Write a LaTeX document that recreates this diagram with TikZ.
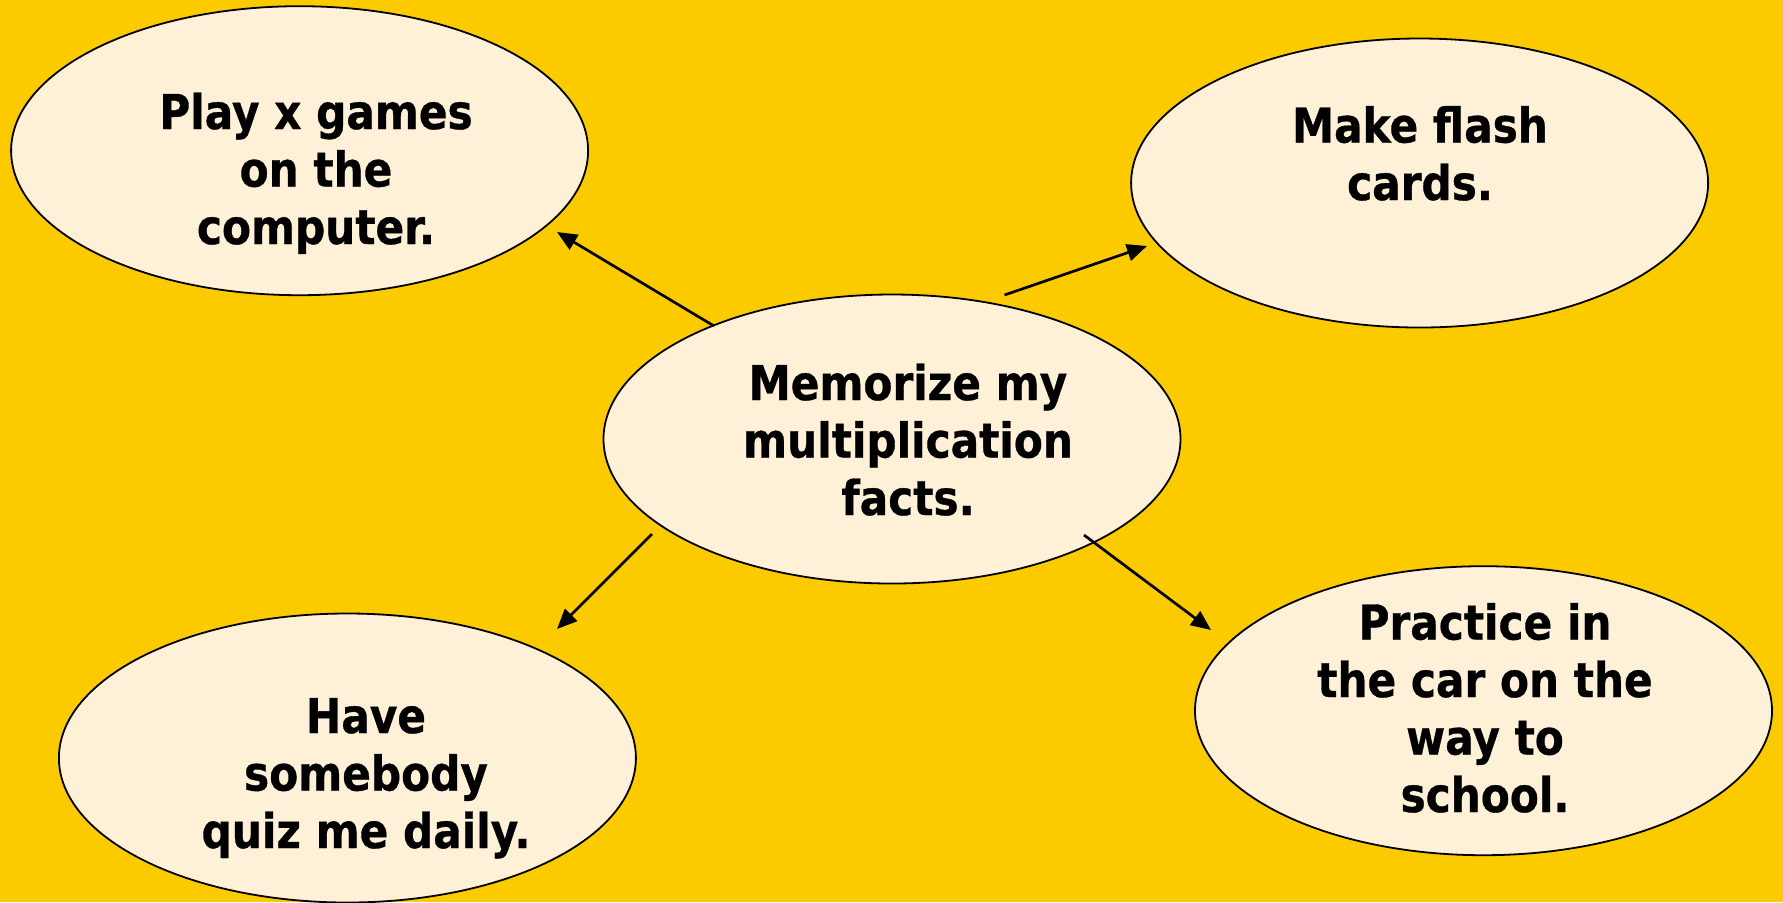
\documentclass[tikz,border=0pt]{standalone}
\usepackage{fontspec}
\setmainfont{DejaVu Sans}[FakeStretch=0.88,BoldFeatures={FakeBold=0.7}]
\usetikzlibrary{shapes.geometric,arrows.meta}
\definecolor{bgyellow}{HTML}{FBCB00}
\definecolor{cream}{HTML}{FFF0D8}
\begin{document}
\begin{tikzpicture}[x=0.5pt,y=-0.5pt,
  bubble/.style={ellipse,draw=black,line width=0.9pt,fill=cream,
    minimum width=288.5pt,minimum height=144.5pt,inner sep=0pt},
  bubbletext/.style={anchor=base,align=center,inner sep=0pt,
    font=\fontsize{24pt}{28.75pt}\selectfont\bfseries},
  link/.style={draw=black,line width=1.35pt,
    -{Triangle[length=10pt,width=8.5pt]}}]
\fill[bgyellow] (0,0) rectangle (1783,902);
\useasboundingbox (0,0) rectangle (1783,902);
% ellipses
\node[bubble] (tl) at (299.6,150.7) {};
\node[bubble] (tr) at (1419.6,183) {};
\node[bubble] (c)  at (892,439) {};
\node[bubble] (bl) at (347.4,758) {};
\node[bubble] (br) at (1483.5,710.7) {};
% texts (anchored at the baseline of the last line)
\node[bubbletext] (tltext) at (316,244) {Play x games\\on the\\computer.};
\node[bubbletext] (trtext) at (1420,200) {Make flash\\cards.};
\node[bubbletext] (ctext)  at (908,515) {Memorize my\\multiplication\\facts.};
\node[bubbletext] (bltext) at (366,848) {Have\\somebody\\quiz me daily.};
\node[bubbletext] (brtext) at (1485,812) {Practice in\\the car on the\\way to\\school.};
% connector ends
\coordinate (s1) at (714,326);
\coordinate (e1) at (557,232);
\coordinate (s2) at (1004.5,295);
\coordinate (e2) at (1147,246);
\coordinate (s3) at (652,534);
\coordinate (e3) at (557,629);
\coordinate (s4) at (1084,535);
\coordinate (e4) at (1211,630);
\draw[link] (s1) -- (e1);
\draw[link] (s2) -- (e2);
\draw[link] (s3) -- (e3);
\draw[link] (s4) -- (e4);
\end{tikzpicture}
\end{document}
